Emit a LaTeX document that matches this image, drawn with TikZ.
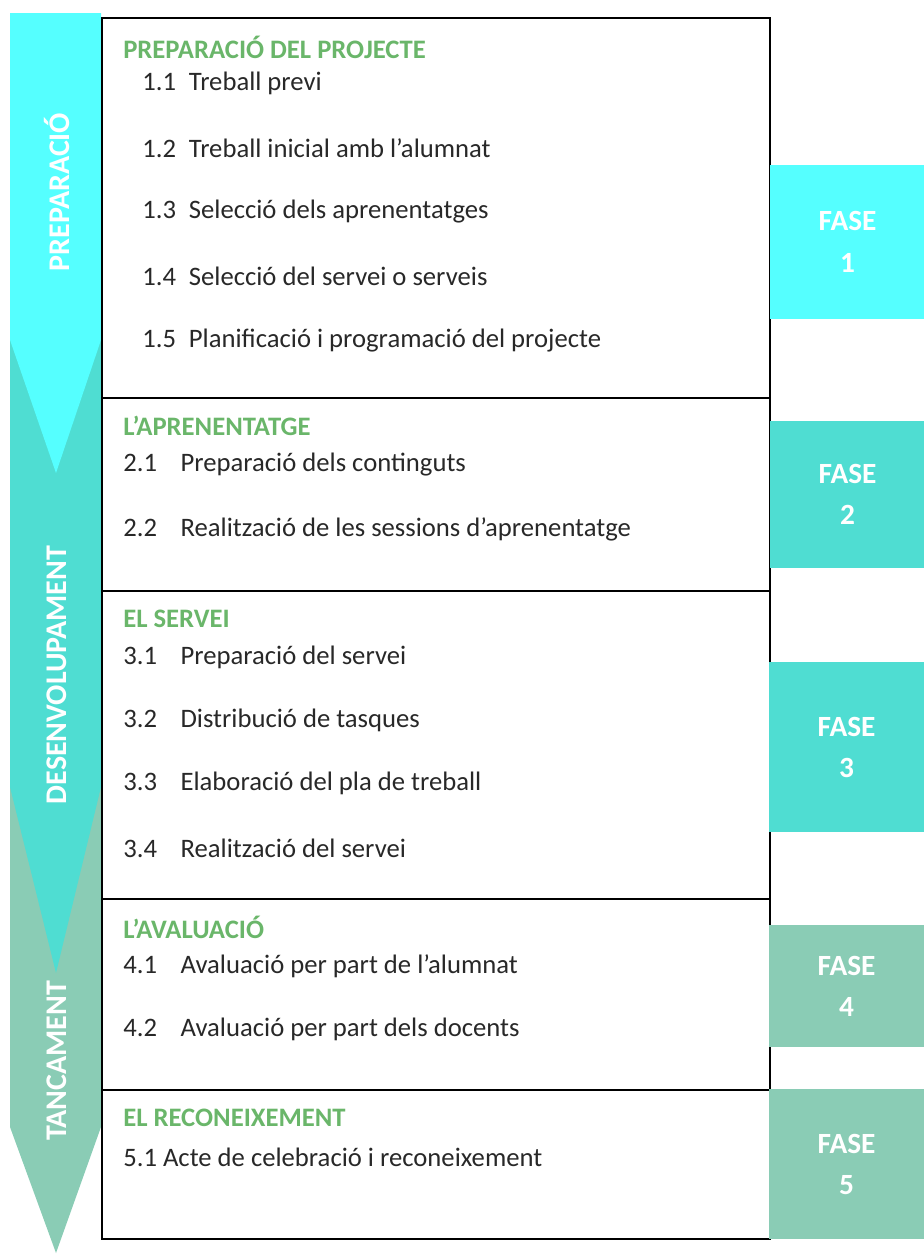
\documentclass[tikz,border=0pt]{standalone}
\usepackage{fontspec}
\setmainfont{Carlito}
\usepackage{tikz}

\definecolor{cyanfase}{RGB}{85,255,255}
\definecolor{turqfase}{RGB}{79,221,210}
\definecolor{sagefase}{RGB}{138,204,181}
\definecolor{headgreen}{RGB}{106,182,106}
\definecolor{bodytext}{RGB}{40,40,40}

\tikzset{
  head/.style={anchor=west, inner sep=0pt, font=\fontsize{20}{22}\selectfont\bfseries, text=headgreen},
  item/.style={anchor=west, inner sep=0pt, font=\fontsize{20}{22}\selectfont, text=bodytext},
  stage/.style={rotate=90, inner sep=0pt, font=\fontsize{22.5}{24}\selectfont\bfseries, text=white},
  fasebox/.style={anchor=north west, minimum width=116pt, minimum height=#1, inner sep=0pt,
    align=center, font=\fontsize{22}{31}\selectfont\bfseries, text=white},
  section/.style={draw=black, line width=1.2pt}
}
\newcommand{\num}[2]{\makebox[#1][l]{#2}}

\begin{document}
\begin{tikzpicture}[x=0.75pt, y=-0.75pt]
\useasboundingbox (0,0) rectangle (924,1254);

% arrows on the left
\fill[sagefase] (10,700) -- (101,700) -- (101,1127) -- (56,1253) -- (10,1127) -- cycle;
\fill[turqfase] (10,330) -- (101,330) -- (101,787) -- (56,973) -- (10,787) -- cycle;
\fill[cyanfase] (10,13) -- (101,13) -- (101,340) -- (56,473) -- (10,340) -- cycle;

\node[stage] (prep) at (57,192) {PREPARACIÓ};
\node[stage] (desen) at (57,675) {DESENVOLUPAMENT};
\node[stage] (tanc) at (57,1061) {TANCAMENT};

% the five sections
\draw[section] (102,18) rectangle (770,398);
\draw[section] (102,398) rectangle (770,591);
\draw[section] (102,591) rectangle (770,899);
\draw[section] (102,899) rectangle (770,1090);
\draw[section] (102,1090) rectangle (770,1239);

\node[head] (h1) at (123,47) {PREPARACIÓ DEL PROJECTE};
\node[item] (i11) at (142,83) {\num{35pt}{1.1}Treball previ};
\node[item] (i12) at (142,148) {\num{35pt}{1.2}Treball inicial amb l’alumnat};
\node[item] (i13) at (142,212) {\num{35pt}{1.3}Selecció dels aprenentatges};
\node[item] (i14) at (142,276) {\num{35pt}{1.4}Selecció del servei o serveis};
\node[item] (i15) at (142,341) {\num{35pt}{1.5}Planificació i programació del projecte};

\node[head] (h2) at (123,426) {L’APRENENTATGE};
\node[item] (i21) at (123,465) {\num{43pt}{2.1}Preparació dels continguts};
\node[item] (i22) at (123,529) {\num{43pt}{2.2}Realització de les sessions d’aprenentatge};

\node[head] (h3) at (123,619) {EL SERVEI};
\node[item] (i31) at (123,657) {\num{43pt}{3.1}Preparació del servei};
\node[item] (i32) at (123,720) {\num{43pt}{3.2}Distribució de tasques};
\node[item] (i33) at (123,783) {\num{43pt}{3.3}Elaboració del pla de treball};
\node[item] (i34) at (123,848) {\num{43pt}{3.4}Realització del servei};

\node[head] (h4) at (123,927) {L’AVALUACIÓ};
\node[item] (i41) at (123,966) {\num{43pt}{4.1}Avaluació per part de l’alumnat};
\node[item] (i42) at (123,1029) {\num{43pt}{4.2}Avaluació per part dels docents};

\node[head] (h5) at (123,1118) {EL RECONEIXEMENT};
\node[item] (i51) at (123,1157) {5.1 Acte de celebració i reconeixement};

% phase boxes on the right
\node[fasebox=115pt, fill=cyanfase] (f1) at (770,165) {FASE\\1};
\node[fasebox=110pt, fill=turqfase] (f2) at (770,421) {FASE\\2};
\node[fasebox=127.5pt, fill=turqfase] (f3) at (769,662) {FASE\\3};
\node[fasebox=91.5pt, fill=sagefase] (f4) at (769,925) {FASE\\4};
\node[fasebox=112.5pt, fill=sagefase] (f5) at (769,1089) {FASE\\5};
\end{tikzpicture}
\end{document}
